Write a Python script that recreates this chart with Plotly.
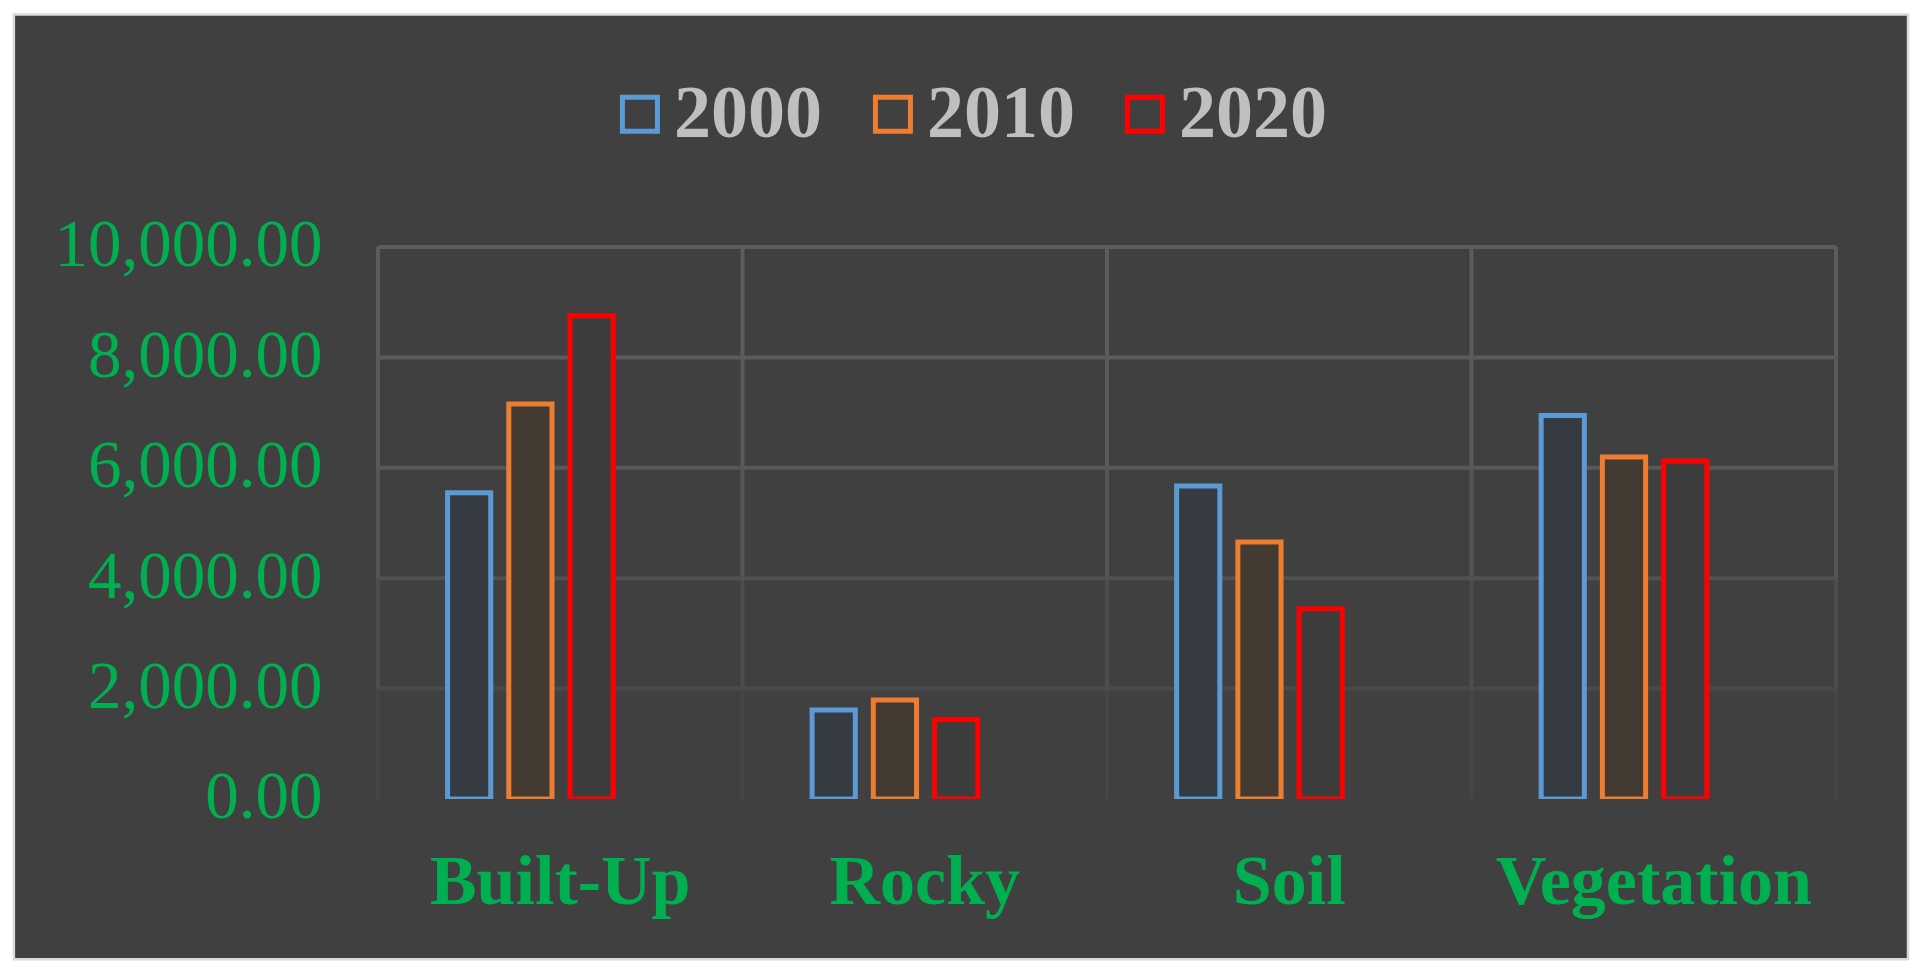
import plotly.graph_objects as go

# ---------------- data ----------------
categories = ["Built-Up", "Rocky", "Soil", "Vegetation"]
years = ["2000", "2010", "2020"]
values_2000 = [5547, 1611, 5670, 6950]
values_2010 = [7155, 1792, 4656, 6194]
values_2020 = [8757, 1440, 3449, 6122]
y_ticks = [0, 2000, 4000, 6000, 8000, 10000]

series_values = [values_2000, values_2010, values_2020]

# ---------------- styling ----------------
line_colors = ["#5b9bd5", "#ed7d31", "#ff0000"]
fill_colors = ["#363b42", "#433a32", "#3e3d3d"]
bar_offsets = [-0.309, -0.141, 0.027]
bar_width = 0.1185
green = "#00b050"
serif = "Liberation Serif, Times New Roman, serif"

OFF = 8  # page body margin
W, H = 1926, 976
PW = 1479.9
PH = 563.65
L = 367.1 - OFF
T = 235.85 - OFF
R = W - L - PW
B = H - T - PH


def px_x(px):
    return (px - OFF - L) / PW


def px_y(py):
    return (T + PH - (py - OFF)) / PH


fig = go.Figure()
for name, vals, lc, fc, off in zip(years, series_values, line_colors, fill_colors, bar_offsets):
    fig.add_trace(go.Bar(
        name=name, x=categories, y=vals,
        offset=off, width=bar_width,
        marker=dict(color=fc, line=dict(color=lc, width=5)),
        showlegend=False,
    ))

shapes = []
# chart background panel with light border
shapes.append(dict(type="rect", xref="paper", yref="paper",
                   x0=px_x(14), x1=px_x(1908), y0=px_y(960), y1=px_y(14),
                   fillcolor="#404040", line=dict(color="#d9d9d9", width=2.5),
                   layer="below"))

# fading gridlines
h_colors = {10000: "#5c5c5c", 8000: "#5b5b5b", 6000: "#585858", 4000: "#515151", 2000: "#4a4a4a"}
seg_colors = ["#464646", "#4d4d4d", "#555555", "#5a5a5a", "#5c5c5c"]
bounds = [i - 0.5 for i in range(len(categories) + 1)]
for b in bounds:
    for k in range(len(y_ticks) - 1):
        shapes.append(dict(type="line", xref="x", yref="y",
                           x0=b, x1=b, y0=y_ticks[k], y1=y_ticks[k + 1],
                           line=dict(color=seg_colors[k], width=4), layer="below"))
for t in y_ticks[1:]:
    shapes.append(dict(type="line", xref="x", yref="y",
                       x0=bounds[0], x1=bounds[-1], y0=t, y1=t,
                       line=dict(color=h_colors[t], width=4), layer="below"))

# custom legend (large square outlines)
legend_box_x = [620, 873, 1125]
annotations = []
for name, lc, bx in zip(years, line_colors, legend_box_x):
    shapes.append(dict(type="rect", xref="paper", yref="paper",
                       x0=px_x(bx + 2.5), x1=px_x(bx + 37.5),
                       y0=px_y(131), y1=px_y(97),
                       line=dict(color=lc, width=5), fillcolor="rgba(0,0,0,0)"))
    annotations.append(dict(xref="paper", yref="paper", x=px_x(bx + 52), y=px_y(112),
                            xanchor="left", yanchor="middle", showarrow=False,
                            text=name,
                            font=dict(family=serif, size=74, color="#bfbfbf", weight="bold")))

fig.update_layout(
    template="none",
    width=W, height=H,
    margin=dict(l=L, r=R, t=T, b=B, pad=0),
    paper_bgcolor="white",
    plot_bgcolor="rgba(0,0,0,0)",
    barmode="overlay",
    showlegend=False,
    shapes=shapes,
    annotations=annotations,
    xaxis=dict(type="category", range=[-0.53, 3.53], showgrid=False, zeroline=False,
               showline=False, ticks="outside", ticklen=20, tickcolor="rgba(0,0,0,0)",
               automargin=False,
               tickfont=dict(family=serif, size=70, color=green, weight="bold")),
    yaxis=dict(range=[0, 10200], tickvals=y_ticks, tickformat=",.2f", showgrid=False,
               zeroline=False, showline=False, ticks="outside", ticklen=30,
               ticklabelshift=-4,
               tickcolor="rgba(0,0,0,0)", automargin=False,
               tickfont=dict(family=serif, size=67, color=green)),
)

fig.write_html("out.html")
